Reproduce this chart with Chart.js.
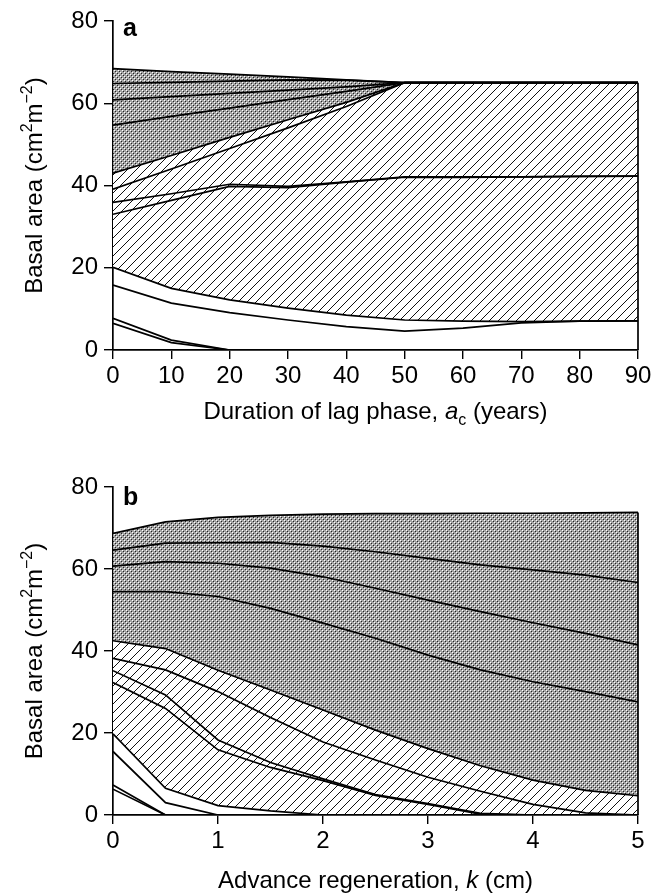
<!DOCTYPE html>
<html>
<head>
<meta charset="utf-8">
<script src="https://cdn.jsdelivr.net/npm/chart.js@4.4.1/dist/chart.umd.min.js"></script>
<style>
  body { margin: 0; background: #fff; }
  .panel { position: relative; width: 668px; height: 448px; }
</style>
</head>
<body>
<div class="panel"><canvas id="chart-a" width="668" height="448"></canvas></div>
<div class="panel"><canvas id="chart-b" width="668" height="448"></canvas></div>
<script>
// Panel a: duration of lag phase (years)
const lagYears = [0, 10, 20, 30, 40, 50, 60, 70, 80, 90];
const lagS1  = [68.4, 67.7, 67.1, 66.4, 65.7, 65.0, 65.0, 65.0, 65.0, 65.0];
const lagS2  = [64.8, 65.1, 65.4, 65.7, 65.6, 65.0, 65.0, 65.0, 65.0, 65.0];
const lagS3  = [60.8, 61.6, 62.4, 63.2, 64.0, 65.0, 65.0, 65.0, 65.0, 65.0];
const lagS4  = [54.7, 56.8, 58.8, 60.9, 62.9, 65.0, 65.0, 65.0, 65.0, 65.0];
const lagS5  = [43.0, 47.3, 51.7, 56.0, 60.2, 65.0, 65.0, 65.0, 65.0, 65.0];
const lagS6  = [39.1, 44.0, 49.0, 54.0, 59.2, 65.0, 65.0, 65.0, 65.0, 65.0];
const lagS7  = [35.9, 38.0, 40.3, 39.8, 40.9, 42.1, 42.1, 42.1, 42.2, 42.3];
const lagS8  = [33.0, 36.4, 39.8, 39.5, 40.8, 42.0, 42.0, 42.1, 42.2, 42.3];
const lagS9  = [20.1, 15.0, 12.2, 10.2, 8.5, 7.3, 7.0, 6.9, 7.0, 7.1];
const lagS10 = [15.8, 11.4, 9.1, 7.3, 5.7, 4.6, 5.3, 6.6, 7.0, 7.1];
const lagS11 = [7.7, 2.4, 0, 0, 0, 0, 0, 0, 0, 0];
const lagS12 = [6.5, 1.8, 0, 0, 0, 0, 0, 0, 0, 0];
const lagTicks = [0, 10, 20, 30, 40, 50, 60, 70, 80, 90];

// Panel b: advance regeneration k (cm)
const regenK = [0, 0.5, 1, 1.5, 2, 2.5, 3, 3.5, 4, 4.5, 5];
const regS1  = [68.7, 71.5, 72.6, 73.1, 73.4, 73.5, 73.5, 73.6, 73.6, 73.7, 73.8];
const regS2  = [64.6, 66.3, 66.4, 66.5, 65.6, 64.2, 62.6, 61.0, 59.8, 58.5, 56.7];
const regS3  = [60.7, 61.8, 61.4, 60.2, 58.1, 55.3, 52.4, 49.6, 46.9, 44.3, 41.5];
const regS4  = [54.5, 54.5, 53.3, 50.4, 46.8, 43.1, 39.0, 35.4, 32.5, 30.1, 27.6];
const regS5  = [42.5, 40.6, 35.3, 30.5, 25.6, 20.7, 16.2, 12.0, 8.5, 6.0, 4.7];
const regS6  = [38.2, 35.4, 30.1, 23.8, 17.8, 13.4, 9.2, 5.8, 2.6, 0.5, 0];
const regS7  = [35.2, 29.3, 18.3, 12.8, 8.8, 5.0, 2.8, 0.4, 0, 0, 0];
const regS8  = [32.3, 26.0, 15.9, 11.6, 8.4, 4.8, 2.6, 0.2, 0, 0, 0];
const regS9  = [19.8, 6.5, 2.3, 1.0, 0, 0, 0, 0, 0, 0, 0];
const regS10 = [15.5, 3.0, 0, 0, 0, 0, 0, 0, 0, 0, 0];
const regS11 = [7.3, 0, 0, 0, 0, 0, 0, 0, 0, 0, 0];
const regS12 = [6.3, 0, 0, 0, 0, 0, 0, 0, 0, 0, 0];
const regTicks = [0, 1, 2, 3, 4, 5];

const basalTicks = [0, 20, 40, 60, 80];

const FONT = '"Liberation Sans", Arial, Helvetica, sans-serif';

// fill patterns
function makeCrossPattern() {
  const c = document.createElement('canvas');
  c.width = 4; c.height = 4;
  const g = c.getContext('2d');
  g.fillStyle = '#a4a4a4';
  g.fillRect(0, 0, 4, 4);
  g.fillStyle = '#fff';
  g.fillRect(0, 0, 1, 1);
  g.fillRect(2, 2, 1, 1);
  g.fillStyle = '#222';
  g.fillRect(1, 1, 1, 1);
  g.fillRect(3, 3, 1, 1);
  return g.createPattern(c, 'repeat');
}

function makeHatchPattern() {
  const s = 9;
  const c = document.createElement('canvas');
  c.width = s; c.height = s;
  const g = c.getContext('2d');
  g.fillStyle = '#fff';
  g.fillRect(0, 0, s, s);
  g.strokeStyle = '#111';
  g.lineWidth = 1;
  g.beginPath();
  g.moveTo(0, s); g.lineTo(s, 0);
  g.moveTo(-1, 1); g.lineTo(1, -1);
  g.moveTo(s - 1, s + 1); g.lineTo(s + 1, s - 1);
  g.stroke();
  return g.createPattern(c, 'repeat');
}

const crossPattern = makeCrossPattern();
const hatchPattern = makeHatchPattern();

// draws text made of parts (plain / italic / sup / sub), centred on (x, y)
function drawRich(ctx, parts, x, y, rotate) {
  const fontFor = p => {
    const size = (p.sup || p.sub) ? 16 : 24;
    return (p.italic ? 'italic ' : '') + size + 'px ' + FONT;
  };
  let total = 0;
  parts.forEach(p => { ctx.font = fontFor(p); p.w = ctx.measureText(p.t).width; total += p.w; });
  ctx.save();
  ctx.translate(x, y);
  if (rotate) ctx.rotate(-Math.PI / 2);
  ctx.fillStyle = '#000';
  ctx.textBaseline = 'alphabetic';
  ctx.textAlign = 'left';
  let cx = -total / 2;
  parts.forEach(p => {
    ctx.font = fontFor(p);
    const dy = p.sup ? -10 : p.sub ? 6 : 0;
    ctx.fillText(p.t, cx, 9 + dy);
    cx += p.w;
  });
  ctx.restore();
}

const yTitle = [
  { t: 'Basal area (cm' }, { t: '2', sup: true }, { t: 'm' }, { t: '\u22122', sup: true }, { t: ')' }
];

function makeChart(id, xVals, series, xTicks, cfg) {
  const datasets = series.map((s, i) => ({
    data: xVals.map((x, j) => ({ x: x, y: s[j] })),
    borderColor: '#000',
    borderWidth: 1.7,
    pointRadius: 0,
    tension: 0,
    fill: i === 0 ? 4 : i === 4 ? 8 : false,
    backgroundColor: i === 0 ? crossPattern : i === 4 ? hatchPattern : 'rgba(0,0,0,0)'
  }));

  const decor = {
    id: 'decor',
    afterDraw(chart) {
      const ctx = chart.ctx;
      const xs = chart.scales.x, ys = chart.scales.y;
      const area = chart.chartArea;
      // right-hand edge of the stacked areas
      const last = xVals.length - 1;
      const ex = xs.getPixelForValue(xVals[last]);
      ctx.save();
      ctx.strokeStyle = '#000';
      ctx.lineWidth = 1.7;
      ctx.beginPath();
      ctx.moveTo(ex, ys.getPixelForValue(series[0][last]));
      ctx.lineTo(ex, ys.getPixelForValue(0));
      ctx.stroke();
      // panel letter
      ctx.font = 'bold 25px ' + FONT;
      ctx.fillStyle = '#000';
      ctx.textAlign = 'left';
      ctx.fillText(cfg.letter, 123, cfg.letterY);
      ctx.restore();
      drawRich(ctx, yTitle, 33, (area.top + area.bottom) / 2, true);
      drawRich(ctx, cfg.xTitle, (area.left + area.right) / 2, cfg.xTitleY, false);
    }
  };

  const axisGrid = { display: true, drawOnChartArea: false, drawTicks: true, tickLength: 9, color: '#000', lineWidth: 1.4 };

  return new Chart(document.getElementById(id), {
    type: 'line',
    data: { datasets: datasets },
    options: {
      responsive: false,
      animation: false,
      layout: { padding: { top: cfg.top, right: 30, left: 0, bottom: 0 } },
      plugins: {
        legend: { display: false },
        tooltip: { enabled: false },
        filler: { drawTime: 'beforeDatasetsDraw' }
      },
      scales: {
        x: {
          type: 'linear',
          min: xTicks[0],
          max: xTicks[xTicks.length - 1],
          afterBuildTicks: s => { s.ticks = xTicks.map(v => ({ value: v })); },
          ticks: { color: '#000', font: { family: FONT, size: 24 }, padding: 3, maxRotation: 0 },
          grid: axisGrid,
          border: { display: true, color: '#000', width: 1.7 },
          afterFit: s => { s.height = cfg.xHeight; }
        },
        y: {
          min: 0,
          max: 80,
          afterBuildTicks: s => { s.ticks = basalTicks.map(v => ({ value: v })); },
          ticks: { color: '#000', font: { family: FONT, size: 24 }, padding: 6 },
          grid: axisGrid,
          border: { display: true, color: '#000', width: 1.7 },
          afterFit: s => { s.width = 113; }
        }
      }
    },
    plugins: [decor]
  });
}

makeChart('chart-a', lagYears,
  [lagS1, lagS2, lagS3, lagS4, lagS5, lagS6, lagS7, lagS8, lagS9, lagS10, lagS11, lagS12],
  lagTicks,
  {
    letter: 'a', letterY: 36, top: 21, xHeight: 98, xTitleY: 410,
    xTitle: [{ t: 'Duration of lag phase, ' }, { t: 'a', italic: true }, { t: 'c', sub: true }, { t: ' (years)' }]
  });

makeChart('chart-b', regenK,
  [regS1, regS2, regS3, regS4, regS5, regS6, regS7, regS8, regS9, regS10, regS11, regS12],
  regTicks,
  {
    letter: 'b', letterY: 57, top: 39, xHeight: 81, xTitleY: 431,
    xTitle: [{ t: 'Advance regeneration, ' }, { t: 'k', italic: true }, { t: ' (cm)' }]
  });
</script>
</body>
</html>
